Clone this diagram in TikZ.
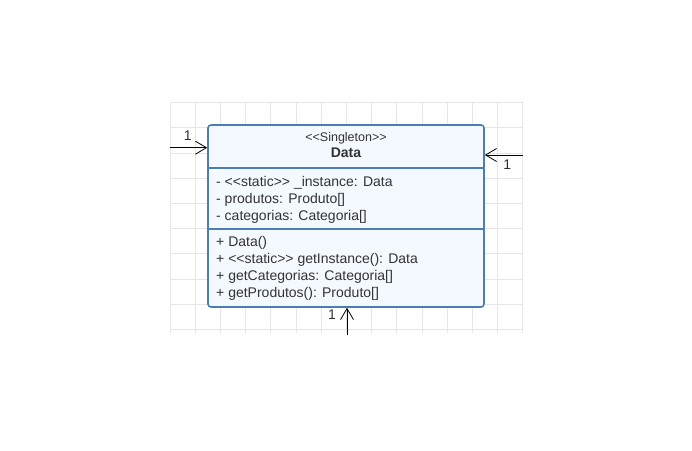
\documentclass[tikz,border=0pt]{standalone}
\usepackage{fontspec}
\setmainfont{Liberation Sans}[Ligatures=TeXOff]
\usetikzlibrary{arrows.meta}
\definecolor{umlline}{HTML}{4A7EB5}
\definecolor{umlfill}{HTML}{F3F9FF}
\definecolor{gridgray}{HTML}{E6E6E6}
\definecolor{txtgray}{HTML}{333333}
\tikzset{
  classbox/.style={draw=umlline,fill=umlfill,line width=1.6pt,rounded corners=3pt,
    minimum width=276pt,minimum height=182pt,inner sep=0pt},
  member/.style={anchor=base west,inner sep=0pt,text=txtgray,font=\fontsize{14}{17}\selectfont},
  mult/.style={inner sep=0pt,text=txtgray,font=\fontsize{14}{17}\selectfont},
  assoc/.style={line width=0.8pt,-{Straight Barb[length=11pt,width=13pt,line width=0.8pt]}}
}
\begin{document}
\begin{tikzpicture}[x=1pt,y=-1pt]
\useasboundingbox (0,0) rectangle (692,450);
% background grid
\foreach \i in {0,...,14}
  \draw[gridgray,line width=0.7pt] (170+25.2*\i,102.5) -- (170+25.2*\i,333);
\foreach \j in {0,...,9}
  \draw[gridgray,line width=0.7pt] (170,102.5+25.2*\j) -- (522.8,102.5+25.2*\j);
% the class
\node[classbox] (data) at (346,216) {};
\draw[umlline,line width=1.6pt] (data.west |- 0,167.7) -- (data.east |- 0,167.7);
\draw[umlline,line width=1.6pt] (data.west |- 0,229) -- (data.east |- 0,229);
\node[mult,anchor=base,font=\fontsize{12.5}{15}\selectfont] (stereo) at (346,141) {<<Singleton>>};
\node[mult,anchor=base,font=\bfseries\fontsize{14}{17}\selectfont] (name) at (346,157.3) {Data};
\node[member] (a1) at (216,186) {- <<static>> \_instance: Data};
\node[member] (a2) at (216,203) {- produtos: Produto[]};
\node[member] (a3) at (216,220) {- categorias: Categoria[]};
\node[member] (m1) at (216,246) {+ Data()};
\node[member] (m2) at (216,263) {+ <<static>> getInstance(): Data};
\node[member] (m3) at (216,280) {+ getCategorias: Categoria[]};
\node[member] (m4) at (216,297) {+ getProdutos(): Produto[]};
% associations
\coordinate (l) at (170,147.7);
\coordinate (r) at (523,155);
\coordinate (b) at (347,335);
\draw[assoc] (l) -- (l -| data.west);
\draw[assoc] (r) -- (r -| data.east);
\draw[assoc] (b) -- (b |- data.south);
\node[mult] (n1) at (187.7,135.7) {1};
\node[mult] (n2) at (507.3,165) {1};
\node[mult] (n3) at (332,314.3) {1};
\end{tikzpicture}
\end{document}
